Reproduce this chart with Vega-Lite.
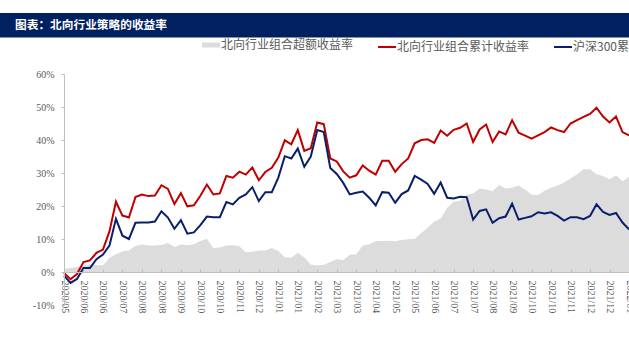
{
  "$schema": "https://vega.github.io/schema/vega-lite/v6.json",
  "background": "white",
  "padding": {"left": 0, "top": 13, "right": 0, "bottom": 0},
  "spacing": 31,
  "config": {"view": {"stroke": null}, "font": "Noto Sans CJK SC"},
  "vconcat": [
    {
      "width": 629,
      "height": 24.6,
      "view": {"fill": "#002060", "stroke": null},
      "data": {"values": [{"t": "图表：北向行业策略的收益率"}]},
      "mark": {"type": "text", "align": "left", "baseline": "middle", "dx": -299.5, "color": "white", "font": "Noto Sans CJK SC", "fontSize": 11.7, "fontWeight": "bold"},
      "encoding": {"text": {"field": "t", "type": "nominal"}}
    },
    {
      "width": 629,
      "height": 231,
      "data": {"values": [
        {"d":"2020/05/15","r":-0.3,"h":-1.1,"g":1.0},
        {"d":"2020/05/22","r":-2.2,"h":-3.3,"g":1.2},
        {"d":"2020/05/29","r":-0.6,"h":-2.1,"g":1.5},
        {"d":"2020/06/05","r":3.0,"h":1.2,"g":1.9},
        {"d":"2020/06/12","r":3.5,"h":1.2,"g":2.3},
        {"d":"2020/06/19","r":5.8,"h":3.9,"g":2.1},
        {"d":"2020/06/26","r":6.8,"h":5.3,"g":2.0},
        {"d":"2020/07/03","r":12.3,"h":8.0,"g":4.3},
        {"d":"2020/07/10","r":21.3,"h":16.1,"g":5.4},
        {"d":"2020/07/17","r":17.1,"h":11.0,"g":6.2},
        {"d":"2020/07/24","r":16.5,"h":10.0,"g":6.5},
        {"d":"2020/07/31","r":22.7,"h":14.9,"g":7.9},
        {"d":"2020/08/07","r":23.5,"h":15.0,"g":8.3},
        {"d":"2020/08/14","r":23.0,"h":15.0,"g":8.0},
        {"d":"2020/08/21","r":23.2,"h":15.3,"g":8.0},
        {"d":"2020/08/28","r":26.3,"h":18.4,"g":8.2},
        {"d":"2020/09/04","r":25.2,"h":16.5,"g":8.8},
        {"d":"2020/09/11","r":20.6,"h":13.1,"g":7.6},
        {"d":"2020/09/18","r":23.9,"h":15.7,"g":8.3},
        {"d":"2020/09/25","r":19.9,"h":11.6,"g":8.1},
        {"d":"2020/10/02","r":20.2,"h":12.0,"g":8.4},
        {"d":"2020/10/09","r":23.1,"h":14.2,"g":9.4},
        {"d":"2020/10/16","r":26.5,"h":16.8,"g":10.1},
        {"d":"2020/10/23","r":23.5,"h":16.6,"g":7.3},
        {"d":"2020/10/30","r":23.8,"h":16.6,"g":7.4},
        {"d":"2020/11/06","r":29.1,"h":21.2,"g":8.0},
        {"d":"2020/11/13","r":28.6,"h":20.5,"g":8.1},
        {"d":"2020/11/20","r":30.4,"h":22.5,"g":7.8},
        {"d":"2020/11/27","r":29.5,"h":23.5,"g":6.0},
        {"d":"2020/12/04","r":31.7,"h":25.7,"g":6.1},
        {"d":"2020/12/11","r":27.8,"h":21.5,"g":6.5},
        {"d":"2020/12/18","r":30.3,"h":24.2,"g":6.5},
        {"d":"2020/12/25","r":31.6,"h":24.2,"g":7.3},
        {"d":"2021/01/01","r":34.7,"h":28.6,"g":6.4},
        {"d":"2021/01/08","r":39.9,"h":35.1,"g":4.5},
        {"d":"2021/01/15","r":38.7,"h":34.4,"g":4.3},
        {"d":"2021/01/22","r":43.0,"h":37.4,"g":5.8},
        {"d":"2021/01/29","r":36.7,"h":31.9,"g":4.5},
        {"d":"2021/02/05","r":37.5,"h":35.0,"g":2.3},
        {"d":"2021/02/12","r":45.3,"h":43.0,"g":2.0},
        {"d":"2021/02/19","r":44.8,"h":42.4,"g":2.2},
        {"d":"2021/02/26","r":34.4,"h":31.5,"g":3.0},
        {"d":"2021/03/05","r":33.5,"h":29.7,"g":3.9},
        {"d":"2021/03/12","r":30.5,"h":27.0,"g":3.6},
        {"d":"2021/03/19","r":28.6,"h":23.5,"g":5.2},
        {"d":"2021/03/26","r":29.3,"h":24.0,"g":5.4},
        {"d":"2021/04/02","r":32.3,"h":24.4,"g":8.0},
        {"d":"2021/04/09","r":30.7,"h":22.5,"g":8.4},
        {"d":"2021/04/16","r":29.5,"h":20.2,"g":9.3},
        {"d":"2021/04/23","r":33.7,"h":24.2,"g":9.4},
        {"d":"2021/04/30","r":33.7,"h":24.0,"g":9.5},
        {"d":"2021/05/07","r":30.4,"h":21.0,"g":9.3},
        {"d":"2021/05/14","r":32.7,"h":23.6,"g":9.7},
        {"d":"2021/05/21","r":34.4,"h":24.7,"g":9.9},
        {"d":"2021/05/28","r":39.0,"h":29.1,"g":10.0},
        {"d":"2021/06/04","r":40.0,"h":28.0,"g":11.8},
        {"d":"2021/06/11","r":40.2,"h":26.7,"g":13.4},
        {"d":"2021/06/18","r":39.1,"h":23.7,"g":15.2},
        {"d":"2021/06/25","r":42.9,"h":27.1,"g":16.2},
        {"d":"2021/07/02","r":41.3,"h":22.5,"g":19.5},
        {"d":"2021/07/09","r":43.1,"h":22.3,"g":21.3},
        {"d":"2021/07/16","r":43.7,"h":22.8,"g":21.6},
        {"d":"2021/07/23","r":45.0,"h":22.7,"g":23.3},
        {"d":"2021/07/30","r":39.4,"h":15.9,"g":23.8},
        {"d":"2021/08/06","r":43.2,"h":18.5,"g":25.3},
        {"d":"2021/08/13","r":44.7,"h":19.0,"g":25.0},
        {"d":"2021/08/20","r":39.4,"h":14.9,"g":24.5},
        {"d":"2021/08/27","r":42.6,"h":16.3,"g":26.4},
        {"d":"2021/09/03","r":41.7,"h":16.8,"g":25.3},
        {"d":"2021/09/10","r":46.0,"h":20.7,"g":25.5},
        {"d":"2021/09/17","r":42.2,"h":15.9,"g":26.2},
        {"d":"2021/09/24","r":41.3,"h":16.4,"g":25.0},
        {"d":"2021/10/01","r":40.4,"h":16.9,"g":23.5},
        {"d":"2021/10/08","r":41.4,"h":18.1,"g":23.3},
        {"d":"2021/10/15","r":42.4,"h":17.7,"g":24.6},
        {"d":"2021/10/22","r":43.8,"h":18.1,"g":25.5},
        {"d":"2021/10/29","r":43.0,"h":17.0,"g":26.2},
        {"d":"2021/11/05","r":42.4,"h":15.6,"g":27.1},
        {"d":"2021/11/12","r":45.0,"h":16.6,"g":28.3},
        {"d":"2021/11/19","r":46.0,"h":16.6,"g":29.6},
        {"d":"2021/11/26","r":47.0,"h":16.0,"g":31.1},
        {"d":"2021/12/03","r":47.9,"h":17.0,"g":31.1},
        {"d":"2021/12/10","r":49.8,"h":20.5,"g":29.6},
        {"d":"2021/12/17","r":47.1,"h":18.2,"g":29.1},
        {"d":"2021/12/24","r":45.3,"h":17.3,"g":28.1},
        {"d":"2021/12/31","r":47.1,"h":17.9,"g":29.3},
        {"d":"2022/01/07","r":42.4,"h":15.0,"g":27.5},
        {"d":"2022/01/14","r":41.4,"h":12.9,"g":28.9}
      ]},
      "transform": [{"fold": ["g", "r", "h"], "as": ["s", "v"]}],
      "encoding": {
        "x": {
          "field": "d", "type": "ordinal",
          "scale": {"type": "point", "padding": 0, "range": [64, 629]},
          "axis": {
            "values": ["2020/05/15","2020/06/05","2020/06/26","2020/07/17","2020/08/07","2020/08/28","2020/09/18","2020/10/09","2020/10/30","2020/11/20","2020/12/11","2021/01/01","2021/01/22","2021/02/12","2021/03/05","2021/03/26","2021/04/16","2021/05/07","2021/05/28","2021/06/18","2021/07/09","2021/07/30","2021/08/20","2021/09/10","2021/10/01","2021/10/22","2021/11/12","2021/12/03","2021/12/24","2022/01/14"],
            "labelExpr": "slice(datum.value, 0, 7)",
            "labelAngle": 90, "labelAlign": "left", "labelBaseline": "middle",
            "labelFont": "Liberation Serif", "labelFontSize": 10, "labelColor": "#595959",
            "labelPadding": 11, "labelOverlap": false,
            "tickSize": -3, "tickColor": "#bfbfbf", "domainColor": "#bfbfbf",
            "offset": -33, "title": null, "grid": false, "zindex": 1
          }
        },
        "y": {
          "field": "v", "type": "quantitative",
          "scale": {"domain": [-10, 60], "nice": false, "zero": false},
          "axis": {
            "values": [-10, 0, 10, 20, 30, 40, 50, 60],
            "labelExpr": "datum.value + '%'",
            "labelFont": "Liberation Serif", "labelFontSize": 10, "labelColor": "#595959",
            "tickSize": 3, "labelPadding": 7, "tickColor": "#bfbfbf", "domainColor": "#bfbfbf",
            "offset": -64,
            "grid": false, "title": null, "zindex": 1
          }
        },
        "color": {
          "field": "s", "type": "nominal",
          "scale": {"domain": ["g", "r", "h"], "range": ["#dcdcdc", "#c00000", "#0a1f6b"]},
          "legend": {
            "orient": "none", "legendX": 205, "legendY": 26, "direction": "horizontal",
            "title": null, "padding": 0,
            "labelExpr": "{'g': '北向行业组合超额收益率', 'r': '北向行业组合累计收益率', 'h': '沪深300累计收益率'}[datum.value]",
            "symbolType": "stroke", "symbolSize": 324, "symbolStrokeWidth": 2,
            "labelFont": "Noto Sans CJK SC", "labelFontSize": 12, "labelColor": "#595959",
            "labelOffset": 4, "columnPadding": 20,
            "encode": {"symbols": {"update": {
              "shape": {"value": "stroke"},
              "fill": {"value": "transparent"},
              "stroke": {"scale": "color", "field": "value"},
              "strokeWidth": {"signal": "datum.value === 'g' ? 5 : 2"},
              "opacity": {"value": 1}
            }}}
          }
        }
      },
      "layer": [
        {
          "transform": [{"filter": "datum.s === 'g'"}],
          "mark": {"type": "area", "opacity": 1},
          "encoding": {"y": {"field": "v", "type": "quantitative", "stack": null}}
        },
        {
          "transform": [{"filter": "datum.s !== 'g'"}],
          "mark": {"type": "line", "strokeWidth": 2}
        }
      ]
    }
  ]
}
